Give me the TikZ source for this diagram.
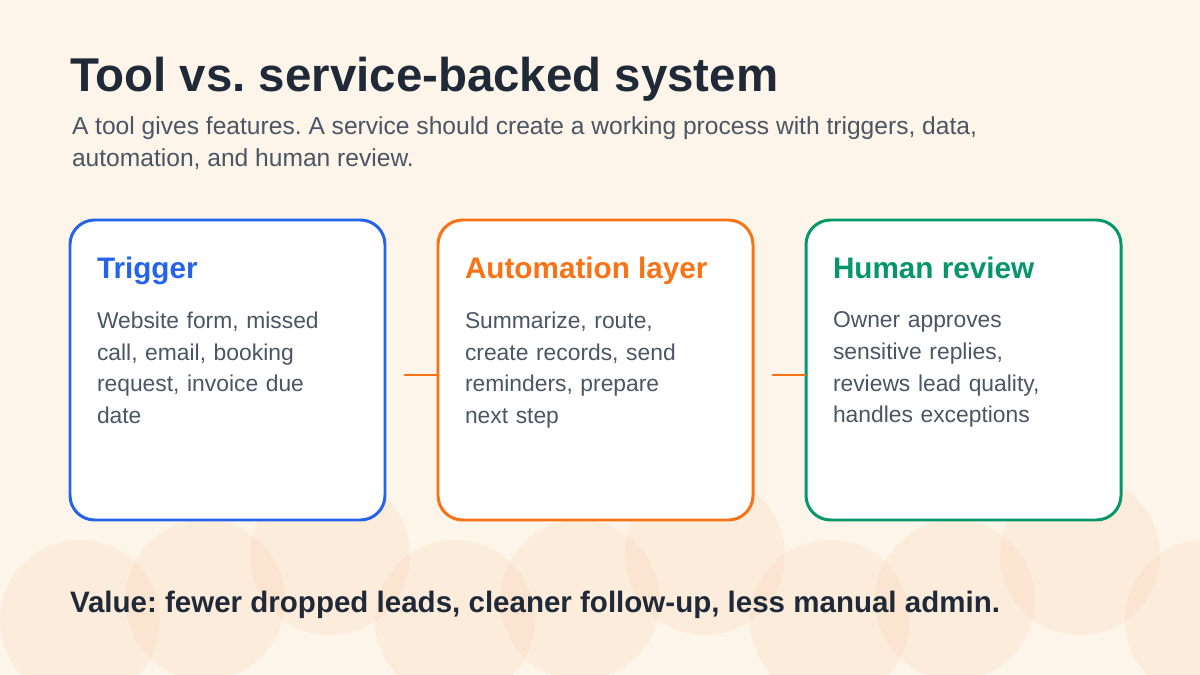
\documentclass[tikz,border=0pt]{standalone}
\usepackage{fontspec}
\setmainfont{Liberation Sans}
\usetikzlibrary{positioning}
\definecolor{bgc}{HTML}{FDF5EA}
\definecolor{ink}{HTML}{1F2937}
\definecolor{subc}{HTML}{4B5563}
\definecolor{blu}{HTML}{2563EB}
\definecolor{ora}{HTML}{F97316}
\definecolor{grn}{HTML}{059669}
\definecolor{dot}{HTML}{FBD3B0}
\frenchspacing
\begin{document}
\begin{tikzpicture}[x=0.02cm,y=-0.02cm]
\tikzset{ >=latex, inner sep=0pt, outer sep=0pt,
  card/.style={draw=#1, line width=1.7pt, fill=white, rounded corners=14pt},
  head/.style={anchor=base west, font=\fontsize{16.9}{19}\selectfont\bfseries, text=#1},
  body/.style={anchor=north west, align=left, text width=5.5cm, text=subc,
    font=\fontsize{13}{18}\selectfont},
  link/.style={ora, line width=1.2pt, shorten <=11pt},
}

%\draw [lightgray, dashed](0,0) grid (1200,675);
\fill [bgc] (0,0) rectangle (1200,675);
\begin{scope}
\clip (0,0) rectangle (1200,675);
\foreach \i in {0,...,9} {
  \pgfmathsetmacro{\cy}{mod(\i,3)==0 ? 620 : (mod(\i,3)==1 ? 600 : 555)}
  \fill [dot, opacity=0.25] (80+125*\i,\cy) circle (80);
}
\end{scope}

\node [anchor=base west, text=ink, font=\fontsize{27}{32}\selectfont\bfseries] (title) at (70,92) {Tool vs. service-backed system};
\node [anchor=north west, text=subc, align=left, font=\fontsize{14}{18}\selectfont] (sub) at (72,117)
  {A tool gives features. A service should create a working process with triggers, data,\\automation, and human review.};

\draw [card=blu] (70,220) rectangle (385,520);
\draw [card=ora] (438,220) rectangle (753,520);
\draw [card=grn] (806,220) rectangle (1121,520);

\coordinate (B1) at (385,375);
\coordinate (A2) at (438,375);
\coordinate (B2) at (753,375);
\coordinate (A3) at (806,375);
\draw [link] (B1) -- (A2);
\draw [link] (B2) -- (A3);

\node [head=blu] (h1) at (97,279) {Trigger};
\node [head=ora] (h2) at (465,279) {Automation layer};
\node [head=grn] (h3) at (833,279) {Human review};

\node [body] (t1) at (97,312) {Website form, missed\\call, email, booking\\request, invoice due\\date};
\node [body] (t2) at (465,312) {Summarize, route,\\create records, send\\reminders, prepare\\next step};
\node [body] (t3) at (833,312) {Owner approves\\sensitive replies,\\reviews lead quality,\\handles exceptions};

\node [anchor=base west, text=ink, font=\fontsize{16.8}{19}\selectfont\bfseries] (val) at (70,612)
  {Value: fewer dropped leads, cleaner follow-up, less manual admin.};
\end{tikzpicture}
\end{document}
